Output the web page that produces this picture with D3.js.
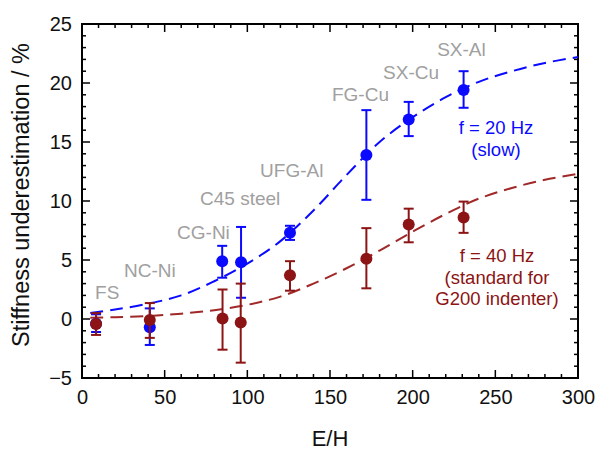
<!DOCTYPE html>
<html>
<head>
<meta charset="utf-8">
<script src="https://cdn.jsdelivr.net/npm/d3@7"></script>
<style>
    body { margin: 0; background: #fff; }
    svg { font-family: 'Liberation Sans', Arial, sans-serif; }
</style>
</head>
<body>
<div id="chart"></div>
<script>
// Data //
const materials = ['FS', 'NC-Ni', 'CG-Ni', 'C45 steel', 'UFG-Al', 'FG-Cu', 'SX-Cu', 'SX-Al']
const ehRatio = [8.5, 41, 85, 96, 125.8, 172, 197.6, 230.8]
const ehRatioSlow = [8.5, 41, 84.8, 96.2, 125.8, 172, 197.6, 230.8]

const slowValues = [-0.4, -0.7, 4.9, 4.8, 7.3, 13.9, 16.9, 19.4]
const slowLow = [-1.1, -2.2, 3.5, 1.8, 6.7, 10.1, 15.5, 17.9]
const slowHigh = [0.4, 0.9, 6.2, 7.8, 7.9, 17.7, 18.4, 21.0]

const stdValues = [-0.42, -0.08, 0.05, -0.3, 3.7, 5.1, 8.0, 8.6]
const stdLow = [-1.35, -1.6, -2.6, -3.7, 2.4, 2.6, 6.5, 7.3]
const stdHigh = [0.5, 1.35, 2.5, 3.0, 4.9, 7.7, 9.35, 9.95]

// fitted curves
const fitX = [5, 20, 40, 60, 80, 100, 120, 140, 160, 180, 200, 220, 240, 260, 280, 300]
const fitSlow = [0.5, 0.8, 1.3, 2.0, 3.2, 4.7, 6.6, 9.2, 12.2, 15.0, 17.1, 18.8, 20.1, 21.0, 21.7, 22.2]
const fitStd = [0.1, 0.15, 0.25, 0.45, 0.75, 1.2, 1.9, 3.0, 4.3, 5.8, 7.4, 8.9, 10.2, 11.1, 11.8, 12.3]

const xTicks = [0, 50, 100, 150, 200, 250, 300]
const yTicks = [-5, 0, 5, 10, 15, 20, 25]

// material labels: [E/H, value] of the text's left baseline
const labelPos = [[7.9, 1.7], [25.4, 3.56], [57.5, 6.8], [71.4, 9.66], [107.7, 12.0], [151.2, 18.5], [182.1, 20.3], [214.8, 22.3]]

// Layout //
const width = 599
const height = 453
const margin = { top: 24, right: 21, bottom: 75, left: 82 }

const blue = '#0a0aff'
const red = '#8c1414'
const redLine = '#a02828'
const grey = '#a0a0a0'

const svg = d3.select('#chart').append('svg')
    .attr('width', width)
    .attr('height', height)

const x = d3.scaleLinear().domain([0, 300]).range([margin.left, width - margin.right])
const y = d3.scaleLinear().domain([-5, 25]).range([height - margin.bottom, margin.top])

// Axes //
const drawTicks = () => {
    const g = svg.append('g').attr('stroke', '#000').attr('stroke-width', 1.5)
    const xMinor = d3.range(0, 301, 10)
    const yMinor = d3.range(-5, 25.1, 1)
    const [x0, x1] = x.range()
    const [y0, y1] = y.range()

    xMinor.forEach(v => {
        const len = v % 50 === 0 ? 8 : 4
        g.append('line').attr('x1', x(v)).attr('x2', x(v)).attr('y1', y0).attr('y2', y0 - len)
        g.append('line').attr('x1', x(v)).attr('x2', x(v)).attr('y1', y1).attr('y2', y1 + len)
    })
    yMinor.forEach(v => {
        const len = v % 5 === 0 ? 8 : 4
        g.append('line').attr('y1', y(v)).attr('y2', y(v)).attr('x1', x0).attr('x2', x0 + len)
        g.append('line').attr('y1', y(v)).attr('y2', y(v)).attr('x1', x1).attr('x2', x1 - len)
    })

    svg.append('rect')
        .attr('x', x0).attr('y', y1)
        .attr('width', x1 - x0).attr('height', y0 - y1)
        .attr('fill', 'none').attr('stroke', '#000').attr('stroke-width', 2)
}

const drawAxes = () => {
    const xAxis = d3.axisBottom(x).tickValues(xTicks).tickSize(0).tickPadding(12)
    const yAxis = d3.axisLeft(y).tickValues(yTicks).tickSize(0).tickPadding(10)

    const gx = svg.append('g')
        .attr('transform', `translate(0,${y.range()[0]})`)
        .call(xAxis)
    const gy = svg.append('g')
        .attr('transform', `translate(${x.range()[0]},0)`)
        .call(yAxis)

    ;[gx, gy].forEach(g => {
        g.select('.domain').remove()
        g.selectAll('text').attr('font-size', 20).attr('fill', '#111')
            .attr('font-family', "'Liberation Sans', Arial, sans-serif")
    })

    svg.append('text')
        .attr('x', (x.range()[0] + x.range()[1]) / 2)
        .attr('y', 446)
        .attr('text-anchor', 'middle')
        .attr('font-size', 22)
        .attr('fill', '#111')
        .text('E/H')

    svg.append('text')
        .attr('transform', `translate(29,195) rotate(-90)`)
        .attr('text-anchor', 'middle')
        .attr('font-size', 23.5)
        .attr('fill', '#111')
        .text('Stiffness underestimation / %')
}

// Drawers //
const drawFit = (values, color) => {
    const line = d3.line()
        .x((d, i) => x(fitX[i]))
        .y(d => y(d))
        .curve(d3.curveCatmullRom)

    svg.append('path')
        .datum(values)
        .attr('d', line)
        .attr('fill', 'none')
        .attr('stroke', color)
        .attr('stroke-width', 2)
        .attr('stroke-dasharray', '13,7')
}

const drawSeries = (xs, values, lows, highs, color) => {
    const g = svg.append('g').attr('stroke', color).attr('stroke-width', 2)
    const capW = 5

    values.forEach((v, i) => {
        const cx = x(xs[i])
        g.append('line').attr('x1', cx).attr('x2', cx).attr('y1', y(lows[i])).attr('y2', y(highs[i]))
        g.append('line').attr('x1', cx - capW).attr('x2', cx + capW).attr('y1', y(lows[i])).attr('y2', y(lows[i]))
        g.append('line').attr('x1', cx - capW).attr('x2', cx + capW).attr('y1', y(highs[i])).attr('y2', y(highs[i]))
    })

    svg.append('g').selectAll('circle')
        .data(values)
        .enter()
        .append('circle')
            .attr('cx', (d, i) => x(xs[i]))
            .attr('cy', d => y(d))
            .attr('r', 6)
            .attr('fill', color)
}

const drawLabels = () => {
    svg.append('g').selectAll('text')
        .data(materials)
        .enter()
        .append('text')
            .attr('x', (d, i) => x(labelPos[i][0]))
            .attr('y', (d, i) => y(labelPos[i][1]))
            .attr('font-size', 19)
            .attr('fill', grey)
            .text(d => d)

    const note = (lines, cx, cy, color) => {
        lines.forEach((t, i) => {
            svg.append('text')
                .attr('x', cx)
                .attr('y', cy + i * 21.5)
                .attr('text-anchor', 'middle')
                .attr('font-size', 18.5)
                .attr('fill', color)
                .text(t)
        })
    }
    note(['f = 20 Hz', '(slow)'], 496, 134, blue)
    note(['f = 40 Hz', '(standard for', 'G200 indenter)'], 497, 262, red)
}

drawTicks()
drawFit(fitSlow, blue)
drawFit(fitStd, redLine)
drawSeries(ehRatioSlow, slowValues, slowLow, slowHigh, blue)
drawSeries(ehRatio, stdValues, stdLow, stdHigh, red)
drawLabels()
drawAxes()
</script>
</body>
</html>
